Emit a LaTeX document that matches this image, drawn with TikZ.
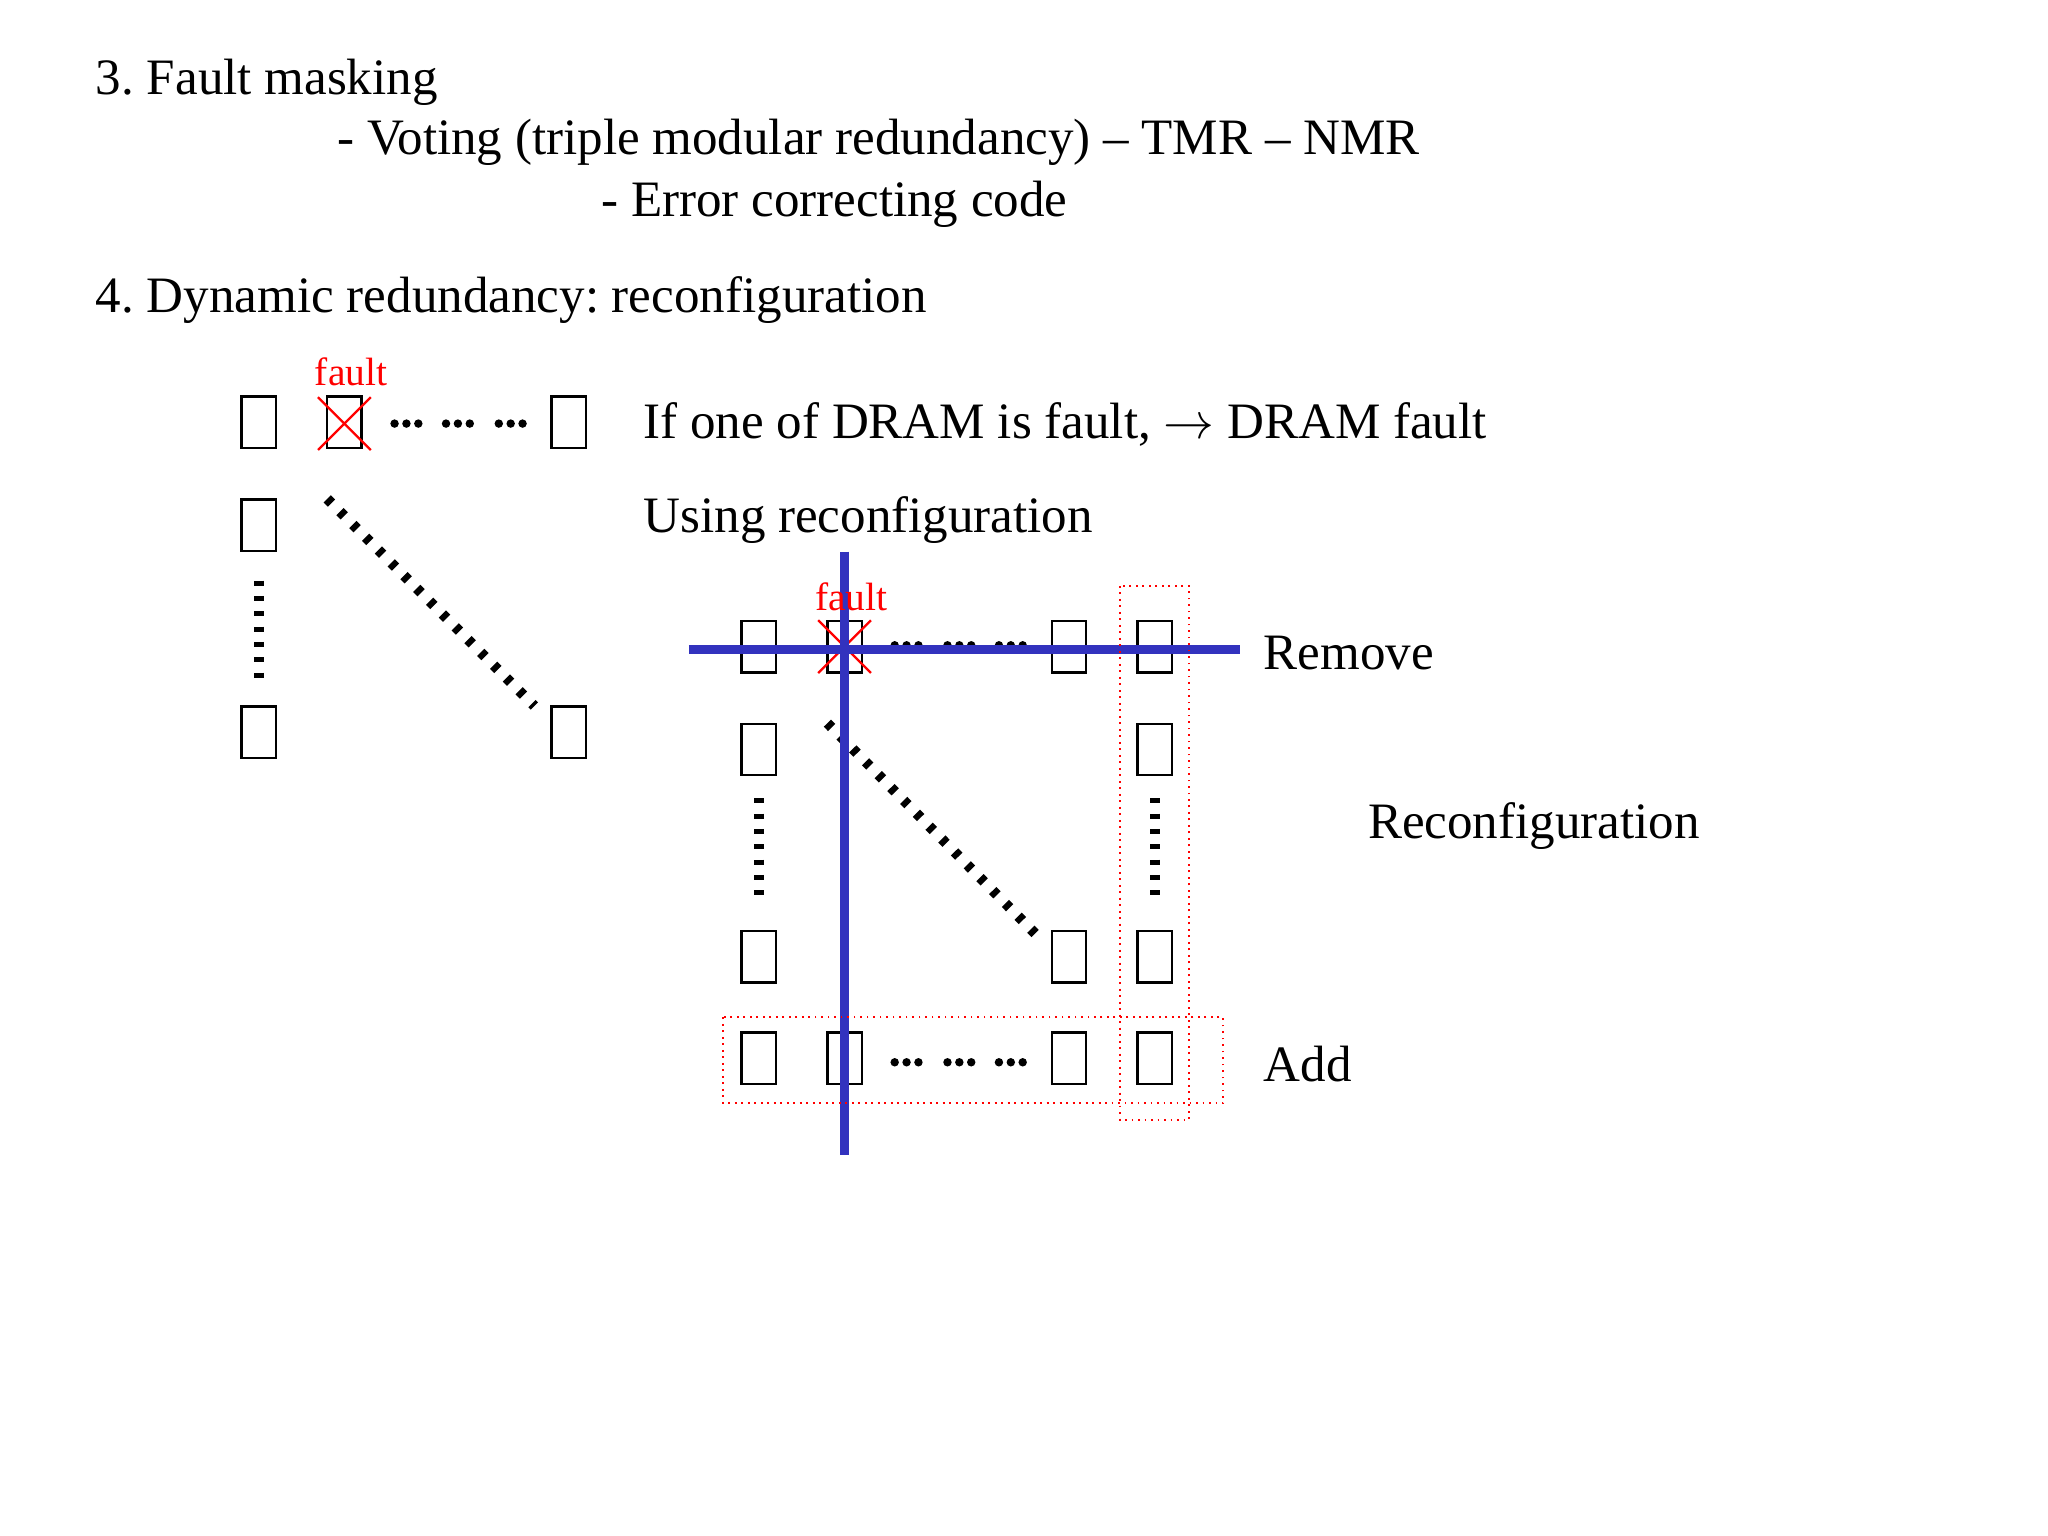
\documentclass[tikz,border=0pt]{standalone}
\usepackage{fontspec}
\setmainfont{Liberation Serif}
\frenchspacing
\begin{document}
\begin{tikzpicture}[x=0.01cm,y=-0.01cm,
  box/.style={draw,line width=0.5pt,minimum width=0.26cm,minimum height=0.39cm,inner sep=0pt},
  txt/.style={anchor=west,inner sep=0pt,font=\fontsize{11pt}{13pt}\selectfont},
  flt/.style={text=red,inner sep=0pt,font=\fontsize{8.5pt}{10pt}\selectfont},
  vdots/.style={line width=2.2pt,dash pattern=on 1.1pt off 2.2pt},
  ddots/.style={line width=2.2pt,dash pattern=on 1.3pt off 2.6pt},
  redrect/.style={draw=red,densely dotted,line width=0.4pt},
  redx/.style={red,line width=0.5pt},
  blue line/.style={draw={rgb,255:red,50;green,50;blue,190},line width=2pt}]
\useasboundingbox (0,0) rectangle (1552,1164);
\node[txt] (t1) at (72,62) {3. Fault masking};
\node[txt] (t2) at (255,108) {- Voting (triple modular redundancy) -- TMR -- NMR};
\node[txt] (t3) at (455,155) {- Error correcting code};
\node[txt] (t4) at (72,227) {4. Dynamic redundancy: reconfiguration};
% left grid
\node[box] (a11) at (196,320) {};
\node[box] (a12) at (261,320) {};
\node[box] (a13) at (431,320) {};
\node[box] (a21) at (196,398) {};
\node[box] (a31) at (196,555) {};
\node[box] (a33) at (431,555) {};
\draw[redx] (241,341) -- (281,301) (241,301) -- (281,341);
\node[flt] (f1) at (266,282) {fault};
\foreach \x in {299,308,317, 338,347,356, 378,387,396}{\fill (\x,321) circle (3.2);}
\draw[vdots] (196,440) -- (196,515);
\draw[ddots] (248,378) -- (405,535);
\node[txt] (t5) at (487,322) {If one of DRAM is fault, $\rightarrow$ DRAM fault};
\node[txt] (t6) at (487,394) {Using reconfiguration};
% right grid
\node[box] (b11) at (575,490) {};
\node[box] (b12) at (640,490) {};
\node[box] (b13) at (810,490) {};
\node[box] (b14) at (875,490) {};
\node[box] (b21) at (575,568) {};
\node[box] (b24) at (875,568) {};
\node[box] (b31) at (575,725) {};
\node[box] (b33) at (810,725) {};
\node[box] (b34) at (875,725) {};
\node[box] (b41) at (575,802) {};
\node[box] (b42) at (640,802) {};
\node[box] (b43) at (810,802) {};
\node[box] (b44) at (875,802) {};
\draw[redx] (620,510) -- (660,470) (620,470) -- (660,510);
\foreach \x in {678,687,696, 718,727,736, 757,766,775}{\fill (\x,489) circle (3.2); \fill (\x,805) circle (3.2);}
\draw[vdots] (575,605) -- (575,685);
\draw[vdots] (875,605) -- (875,685);
\draw[ddots] (627,548) -- (785,708);
\coordinate (h1) at (522,492); \coordinate (h2) at (940,492);
\coordinate (v1) at (640,418); \coordinate (v2) at (640,875);
\draw[blue line] (h1) -- (h2);
\draw[blue line] (v1) -- (v2);
\draw[redrect] (849,444) rectangle (901,849);
\draw[redrect] (548,771) rectangle (927,836);
\node[flt] (f2) at (645,452) {fault};
\node[txt] (t7) at (957,495) {Remove};
\node[txt] (t8) at (1036,626) {Reconfiguration};
\node[txt] (t9) at (957,806) {Add};
\end{tikzpicture}
\end{document}
